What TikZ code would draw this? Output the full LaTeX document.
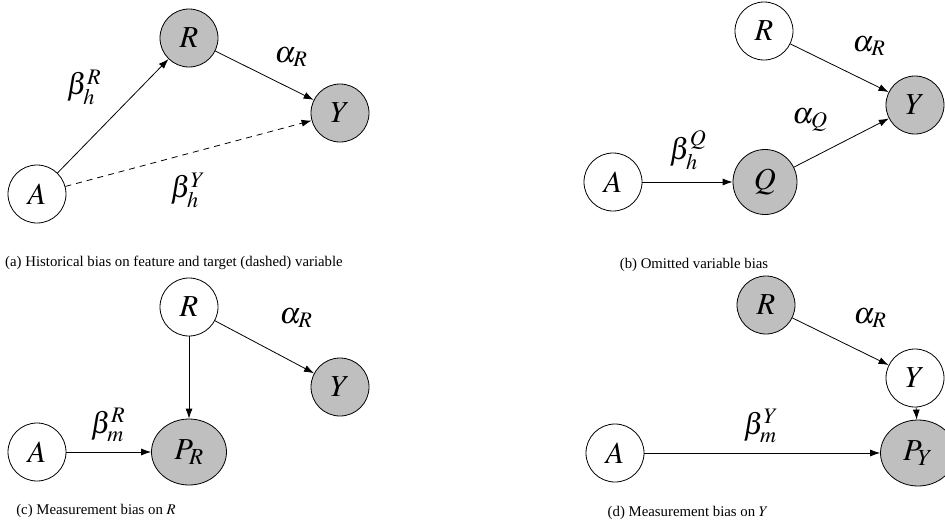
\documentclass[tikz,border=0pt]{standalone}
\usepackage{amsmath}
\usepackage{mathptmx}
\usepackage{fontspec}
\setmainfont{Liberation Serif}
\usetikzlibrary{shapes.geometric,arrows.meta}
\DeclareMathSizes{30.5}{30.5}{23}{17}
\begin{document}
\begin{tikzpicture}[x=1pt,y=-1pt,
  var/.style={ellipse,draw,line width=0.8pt,minimum width=58pt,minimum height=58pt,inner sep=0pt,font=\fontsize{30.5}{34}\selectfont},
  obs/.style={var,fill=gray!50},
  wide/.style={minimum width=75pt,minimum height=66pt},
  lbl/.style={font=\fontsize{30}{34}\selectfont,inner sep=0pt},
  captext/.style={font=\fontsize{14.8}{17}\selectfont,inner sep=0pt},
  edge/.style={-{Latex[length=10pt,width=7pt]},line width=0.8pt}]
\useasboundingbox (0,0) rectangle (945,525);
\clip (0,0) rectangle (945,525);

% (a)
\node[var] (aA) at (37,194) {$A$};
\node[obs] (aR) at (189,38) {$R$};
\node[obs] (aY) at (340,113) {$Y$};
\draw[edge] (aA) -- (aR);
\draw[edge] (aR) -- (aY);
\draw[edge,dashed,dash pattern=on 6pt off 5pt] (aA) -- (aY);
\node[lbl] (laR) at (84,87) {$\beta_h^R$};
\node[lbl] (laA) at (291,57) {$\alpha_R$};
\node[lbl] (laY) at (188,190) {$\beta_h^Y$};
\node[captext] (capa) at (174,263) {(a) Historical bias on feature and target (dashed) variable};

% (b)
\node[var] (bR) at (764,31) {$R$};
\node[obs] (bY) at (915,105) {$Y$};
\node[var] (bA) at (613,182) {$A$};
\node[obs,minimum width=64pt,minimum height=65pt] (bQ) at (765,182) {$Q$};
\draw[edge] (bR) -- (bY);
\draw[edge] (bQ) -- (bY);
\draw[edge] (bA) -- (bQ);
\node[lbl] (lbR) at (869,46) {$\alpha_R$};
\node[lbl] (lbQ) at (810,120) {$\alpha_Q$};
\node[lbl] (lbA) at (688,150) {$\beta_h^Q$};
\node[captext] (capb) at (694,265) {(b) Omitted variable bias};

% (c)
\node[var] (cR) at (189,307) {$R$};
\node[obs] (cY) at (340,387) {$Y$};
\node[var] (cA) at (37,452) {$A$};
\node[obs,wide] (cP) at (189,452) {$P_R$};
\draw[edge] (cR) -- (cY);
\draw[edge] (cR) -- (cP);
\draw[edge] (cA) -- (cP);
\node[lbl] (lcR) at (296,318) {$\alpha_R$};
\node[lbl] (lcA) at (108,425) {$\beta_m^R$};
\node[captext] (capc) at (96,511) {(c) Measurement bias on $R$};

% (d)
\node[obs] (dR) at (766,305) {$R$};
\node[var] (dY) at (915,378) {$Y$};
\node[var] (dA) at (615,453) {$A$};
\node[obs,wide] (dP) at (918,453) {$P_Y$};
\draw[edge] (dR) -- (dY);
\draw[edge] (dY) -- (dP);
\draw[edge] (dA) -- (dP);
\node[lbl] (ldR) at (870,318) {$\alpha_R$};
\node[lbl] (ldA) at (761,426) {$\beta_m^Y$};
\node[captext] (capd) at (688,513) {(d) Measurement bias on $Y$};
\end{tikzpicture}
\end{document}
